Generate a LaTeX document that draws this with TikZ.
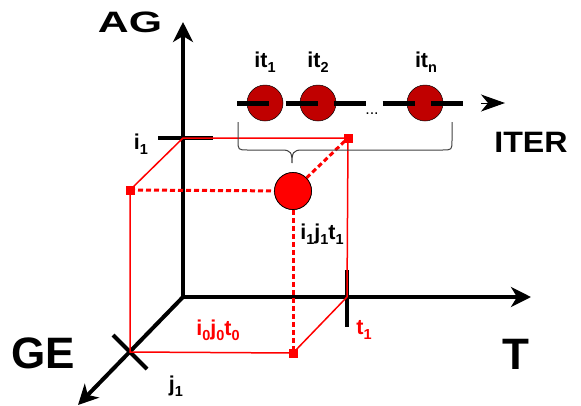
\documentclass[tikz,border=0pt]{standalone}
\usepackage{fontspec}
\setmainfont{Liberation Sans}
\usetikzlibrary{arrows.meta}
\newcommand\sbx[1]{\raisebox{-5pt}{\fontsize{14.5}{14.5}\selectfont #1}}
\definecolor{darkred}{RGB}{192,0,0}
\begin{document}
\begin{tikzpicture}[x=1pt,y=-1pt,
  axis/.style={line width=4pt, -{Stealth[length=20pt,width=20pt,inset=6pt]}},
  ticks/.style={line width=4pt},
  redline/.style={red, line width=1.5pt},
  reddash/.style={red, line width=3pt, dash pattern=on 5pt off 3pt},
  sq/.style={fill=red, minimum size=9pt, inner sep=0pt, draw=none, rectangle},
  lbl/.style={font=\fontsize{21.5}{23}\selectfont\bfseries, inner sep=0pt},
  biglbl/.style={font=\fontsize{44}{46}\selectfont\bfseries, inner sep=0pt},
  midlbl/.style={font=\fontsize{29.5}{31}\selectfont\bfseries, inner sep=0pt},
  itcirc/.style={circle, fill=darkred, draw=black, line width=0.5pt, minimum size=36pt, inner sep=0pt},
  bigcirc/.style={circle, fill=red, draw=black, line width=0.7pt, minimum size=37pt, inner sep=0pt}]
\useasboundingbox (0,0) rectangle (581,405);
% axes
\coordinate (O) at (183,297);
\coordinate (AGtip) at (183,22);
\coordinate (Ttip) at (531,297);
\coordinate (GEtip) at (78,405);
\draw[axis] (O) -- (AGtip);
\draw[axis] (O) -- (Ttip);
\draw[axis] (O) -- (GEtip);
% cube corners
\coordinate (D) at (183,138);
\coordinate (E) at (130,352);
\coordinate (F) at (347,297);
\node[sq] (A) at (130,190) {};
\node[sq] (B) at (348,138) {};
\node[sq] (C) at (293,353) {};
\node[bigcirc] (P) at (293,191) {};
% ticks
\coordinate (ti1) at (158,138);
\coordinate (ti2) at (213,138);
\draw[ticks] (ti1) -- (ti2);
\coordinate (tt1) at (347,270);
\coordinate (tt2) at (347,327);
\draw[ticks] (tt1) -- (tt2);
\coordinate (x1) at (113,335);
\coordinate (x2) at (147,369);
\draw[ticks] (x1) -- (x2);
% red solid edges
\draw[redline] (D) -- (B.center) -- (F);
\draw[redline] (D) -- (A.center) -- (E) -- (C.center) -- (F);
% red dashed edges
\draw[reddash] (A.center) -- (P);
\draw[reddash] (P) -- (B.center);
\draw[reddash] (P) -- (C.center);
\node[sq] at (A) {};
\node[sq] at (B) {};
\node[sq] at (C) {};
\node[bigcirc] at (P) {};
% iterations
\node[itcirc] (c1) at (265,103) {};
\node[itcirc] (c2) at (318,103) {};
\node[itcirc] (cn) at (425,103) {};
\coordinate (l1) at (237,103);
\coordinate (l2) at (463,103);
\draw[line width=5pt, dash pattern=on 32pt off 16.5pt] (l1) -- (l2);
\node[font=\fontsize{16}{16}\selectfont] (dots) at (372,114) {...};
\coordinate (ia) at (481,103);
\coordinate (ib) at (505,103);
\draw[line width=1pt, -{Stealth[length=24pt,width=17pt,inset=7pt]}] (ia) -- (ib);
% brace
\coordinate (br1) at (238,122);
\coordinate (br2) at (452,122);
\coordinate (brt) at (292,163);
\draw[black!75, line width=1pt] (br1) -- (238,140) .. controls (238,150) .. (248,150) -- (282,150)
  .. controls (291,150) and (292,153) .. (brt) .. controls (292,153) and (293,150) .. (302,150)
  -- (442,150) .. controls (452,150) .. (452,140) -- (br2);
% labels
\node[lbl] (it1) at (265,62) {it\sbx{1}};
\node[lbl] (it2) at (318,62) {it\sbx{2}};
\node[lbl] (itn) at (426,62) {it\sbx{n}};
\node[lbl] (li1) at (141,144) {i\sbx{1}};
\node[lbl] (lj1) at (176,386) {j\sbx{1}};
\node[lbl, text=red] (lt1) at (364,330) {t\sbx{1}};
\node[lbl, text=red] (l000) at (218,330) {i\sbx{0}j\sbx{0}t\sbx{0}};
\node[lbl] (l111) at (322,234) {i\sbx{1}j\sbx{1}t\sbx{1}};
\node[midlbl] (AG) at (130,22.5) {\scalebox{1.45}[1]{AG}};
\node[midlbl] (ITER) at (531,142.5) {\scalebox{1.09}[1]{ITER}};
\node[biglbl] (T) at (516,354.5) {T};
\node[biglbl] (GE) at (43,353.5) {GE};
\end{tikzpicture}
\end{document}
